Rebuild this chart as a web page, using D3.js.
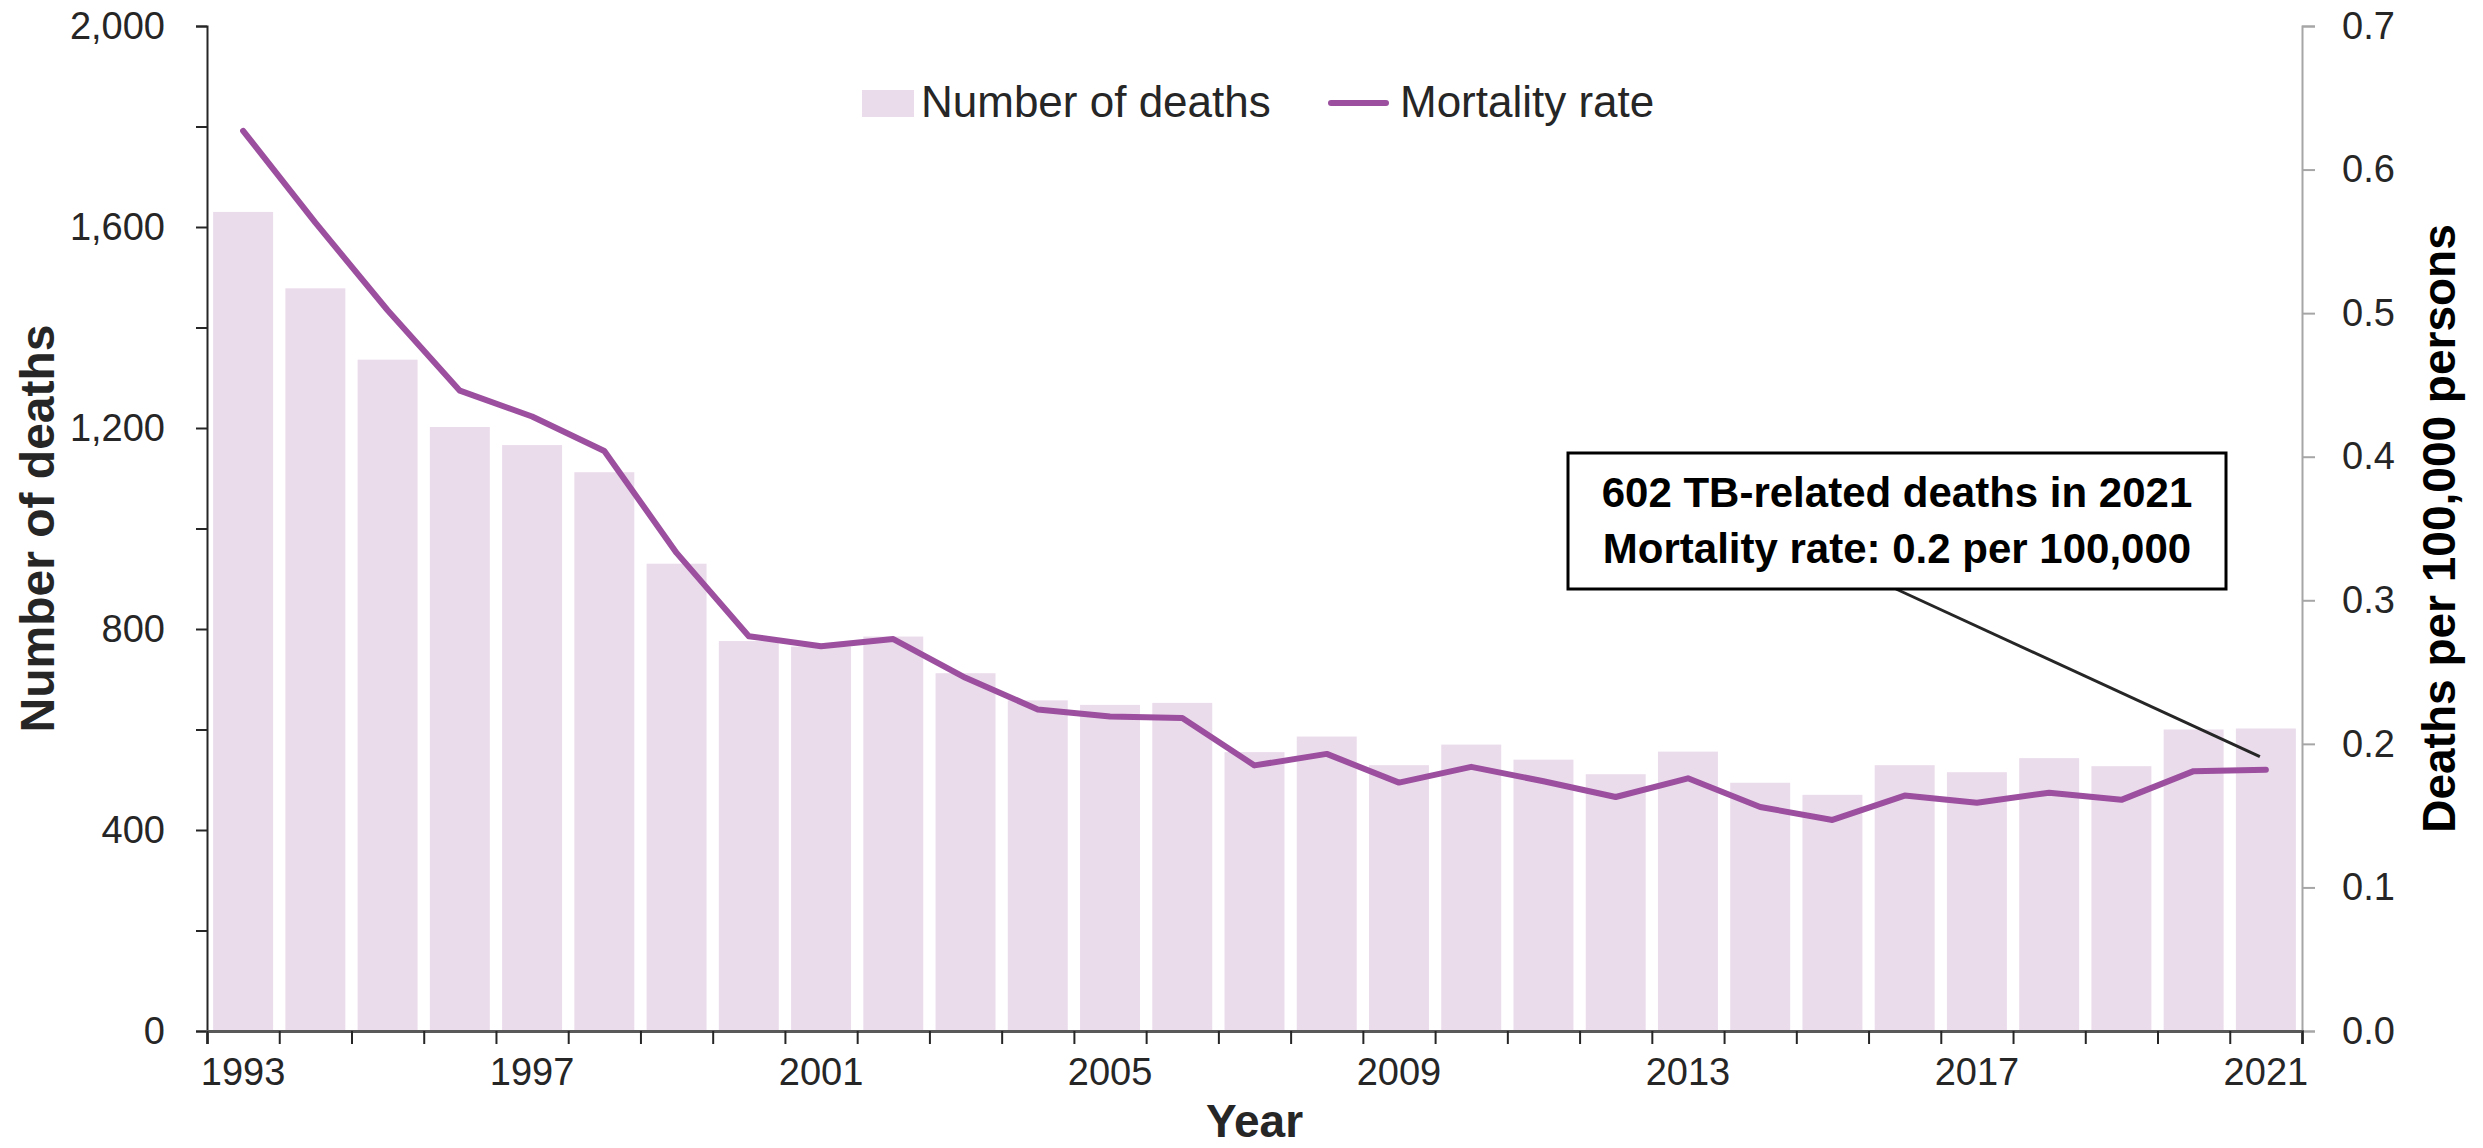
<!DOCTYPE html>
<html>
<head>
<meta charset="utf-8">
<script src="https://cdn.jsdelivr.net/npm/d3@7"></script>
<style>
  body { margin: 0; background: #fff; }
  text { font-family: "Liberation Sans", Arial, sans-serif; }
</style>
</head>
<body>
<script>

let years = [1993, 1994, 1995, 1996, 1997, 1998, 1999, 2000, 2001, 2002,
             2003, 2004, 2005, 2006, 2007, 2008, 2009, 2010, 2011, 2012,
             2013, 2014, 2015, 2016, 2017, 2018, 2019, 2020, 2021]
let deaths = [1630, 1478, 1336, 1202, 1166, 1112, 930, 776, 765, 785,
              712, 658, 649, 653, 555, 586, 529, 570, 540, 511,
              556, 494, 470, 529, 515, 543, 527, 600, 602]
let rates = [0.627, 0.563, 0.502, 0.446, 0.428, 0.404, 0.333, 0.275, 0.268, 0.273,
             0.246, 0.224, 0.219, 0.218, 0.185, 0.193, 0.173, 0.184, 0.174, 0.163,
             0.176, 0.156, 0.147, 0.164, 0.159, 0.166, 0.161, 0.181, 0.182]
let yearLabels = [1993, 1997, 2001, 2005, 2009, 2013, 2017, 2021]
let leftTicks = [0, 200, 400, 600, 800, 1000, 1200, 1400, 1600, 1800, 2000]
let rightTicks = [0, 0.1, 0.2, 0.3, 0.4, 0.5, 0.6, 0.7]
let legendLabels = ["Number of deaths", "Mortality rate"]
let noteLines = ["602 TB-related deaths in 2021", "Mortality rate: 0.2 per 100,000"]

let width = 2483
let height = 1148
let plotLeft = 207
let plotRight = 2302
let plotTop = 26
let plotBottom = 1031

let barColor = "#ebdcec"
let lineColor = "#9b4f9e"

let svg = d3.select("body")
            .append("svg")
            .attr("width", width)
            .attr("height", height)

let xScale = d3.scaleBand()
               .domain(years)
               .range([plotLeft, plotRight])
               .paddingInner(0.17)
               .paddingOuter(0.085)

// linear twin of the band scale, used for the boundary ticks
let xEdges = d3.scaleLinear()
               .domain([years[0] - 0.5, years[years.length - 1] + 0.5])
               .range([plotLeft, plotRight])

let yLeft = d3.scaleLinear()
              .domain([0, 2000])
              .range([plotBottom, plotTop])

let yRight = d3.scaleLinear()
               .domain([0, 0.7])
               .range([plotBottom, plotTop])

let cx = (year) => xScale(year) + xScale.bandwidth() / 2

// bars
svg.selectAll("rect.bar")
    .data(years)
    .enter()
    .append("rect")
    .attr("class", "bar")
    .attr("x", (d) => xScale(d))
    .attr("width", xScale.bandwidth())
    .attr("y", (d, i) => yLeft(deaths[i]))
    .attr("height", (d, i) => plotBottom - yLeft(deaths[i]))
    .attr("fill", barColor)

// mortality line
let line = d3.line()
             .x((d, i) => cx(years[i]))
             .y((d) => yRight(d))

svg.append("path")
    .datum(rates)
    .attr("d", line)
    .attr("fill", "none")
    .attr("stroke", lineColor)
    .attr("stroke-width", 6)
    .attr("stroke-linejoin", "round")
    .attr("stroke-linecap", "round")

// axes
let leftAxis = d3.axisLeft(yLeft)
                 .tickValues(leftTicks)
                 .tickSize(11)
                 .tickPadding(31)
                 .tickFormat((d) => d % 400 == 0 ? d3.format(",")(d) : "")

let gl = svg.append("g")
    .attr("transform", "translate(" + plotLeft + ",0)")
    .call(leftAxis)

gl.select(".domain").attr("stroke", "#262626").attr("stroke-width", 2)
gl.selectAll(".tick line").attr("stroke", "#262626").attr("stroke-width", 2)
gl.selectAll("text").attr("font-size", 38).attr("fill", "#262626")

let rightAxis = d3.axisRight(yRight)
                  .tickValues(rightTicks)
                  .tickSize(13)
                  .tickPadding(27)
                  .tickFormat(d3.format(".1f"))

let gr = svg.append("g")
    .attr("transform", "translate(" + plotRight + ",0)")
    .call(rightAxis)

gr.select(".domain").attr("stroke", "#a6a6a6").attr("stroke-width", 2)
gr.selectAll(".tick line").attr("stroke", "#a6a6a6").attr("stroke-width", 2)
gr.selectAll("text").attr("font-size", 38).attr("fill", "#262626")

let edgeAxis = d3.axisBottom(xEdges)
                 .tickValues(d3.range(years.length + 1).map((i) => years[0] - 0.5 + i))
                 .tickSize(13)
                 .tickFormat("")

let ge = svg.append("g")
    .attr("transform", "translate(0," + plotBottom + ")")
    .call(edgeAxis)

ge.select(".domain").attr("stroke", "#595959").attr("stroke-width", 3)
ge.selectAll(".tick line").attr("stroke", "#262626").attr("stroke-width", 2)

let labelAxis = d3.axisBottom(xScale)
                  .tickValues(yearLabels)
                  .tickSize(0)
                  .tickPadding(27)

let gx = svg.append("g")
    .attr("transform", "translate(0," + plotBottom + ")")
    .call(labelAxis)

gx.select(".domain").remove()
gx.selectAll("text").attr("font-size", 38).attr("fill", "#262626")

// axis titles
svg.append("text")
    .attr("x", (plotLeft + plotRight) / 2)
    .attr("y", 1137)
    .attr("text-anchor", "middle")
    .attr("font-size", 46)
    .attr("font-weight", "bold")
    .attr("fill", "#262626")
    .text("Year")

svg.append("text")
    .attr("transform", "translate(54," + (plotTop + plotBottom) / 2 + ") rotate(-90)")
    .attr("text-anchor", "middle")
    .attr("font-size", 48)
    .attr("font-weight", "bold")
    .attr("fill", "#262626")
    .text("Number of deaths")

svg.append("text")
    .attr("transform", "translate(2455," + (plotTop + plotBottom) / 2 + ") rotate(-90)")
    .attr("text-anchor", "middle")
    .attr("font-size", 46)
    .attr("font-weight", "bold")
    .attr("fill", "#000")
    .text("Deaths per 100,000 persons")

// legend
let legend = svg.append("g")

legend.append("rect")
    .attr("x", 862)
    .attr("y", 90)
    .attr("width", 52)
    .attr("height", 27)
    .attr("fill", barColor)

legend.append("text")
    .attr("x", 921)
    .attr("y", 117)
    .attr("font-size", 44)
    .attr("fill", "#262626")
    .text(legendLabels[0])

legend.append("line")
    .attr("x1", 1331)
    .attr("x2", 1386)
    .attr("y1", 103)
    .attr("y2", 103)
    .attr("stroke", lineColor)
    .attr("stroke-width", 6)
    .attr("stroke-linecap", "round")

legend.append("text")
    .attr("x", 1400)
    .attr("y", 117)
    .attr("font-size", 44)
    .attr("fill", "#262626")
    .text(legendLabels[1])

// callout for 2021
let last = years.length - 1

svg.append("line")
    .attr("x1", 1896)
    .attr("y1", 589)
    .attr("x2", cx(years[last]) - 6)
    .attr("y2", yRight(rates[last]) - 13)
    .attr("stroke", "#262626")
    .attr("stroke-width", 3)

svg.append("rect")
    .attr("x", 1568)
    .attr("y", 453)
    .attr("width", 658)
    .attr("height", 136)
    .attr("fill", "#fff")
    .attr("stroke", "#000")
    .attr("stroke-width", 3)

svg.selectAll("text.note")
    .data(noteLines)
    .enter()
    .append("text")
    .attr("class", "note")
    .attr("x", 1897)
    .attr("y", (d, i) => 507 + i * 56)
    .attr("text-anchor", "middle")
    .attr("font-size", 42)
    .attr("font-weight", "bold")
    .attr("fill", "#000")
    .text((d) => d)

</script>
</body>
</html>
